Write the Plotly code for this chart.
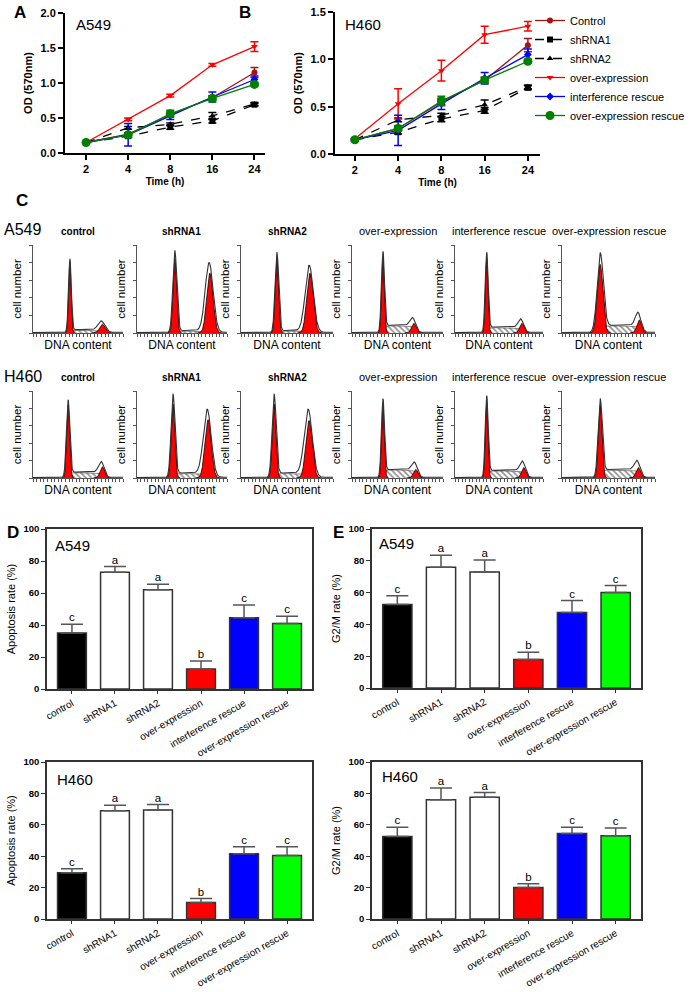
import numpy as np
import plotly.graph_objects as go

W, H = 698, 992
FONT = "Arial, Liberation Sans, sans-serif"

# ---------------- Panel A / B : growth curves ----------------
time_labels = ["2", "4", "8", "16", "24"]
series_names = ["Control", "shRNA1", "shRNA2", "over-expression",
                "interference rescue", "over-expression rescue"]

a549_control = [0.15, 0.27, 0.55, 0.79, 1.15]
a549_control_err = [0.01, 0.02, 0.03, 0.03, 0.07]
a549_sh1 = [0.15, 0.24, 0.37, 0.46, 0.69]
a549_sh1_err = [0.01, 0.02, 0.03, 0.03, 0.02]
a549_sh2 = [0.15, 0.36, 0.41, 0.53, 0.70]
a549_sh2_err = [0.01, 0.02, 0.02, 0.05, 0.02]
a549_oe = [0.15, 0.48, 0.82, 1.26, 1.52]
a549_oe_err = [0.01, 0.02, 0.02, 0.02, 0.07]
a549_ir = [0.15, 0.26, 0.53, 0.80, 1.05]
a549_ir_err = [0.01, 0.16, 0.05, 0.07, 0.05]
a549_oer = [0.15, 0.26, 0.56, 0.78, 0.98]
a549_oer_err = [0.01, 0.03, 0.05, 0.03, 0.02]

h460_control = [0.15, 0.27, 0.55, 0.78, 1.15]
h460_control_err = [0.01, 0.02, 0.03, 0.03, 0.07]
h460_sh1 = [0.15, 0.23, 0.37, 0.46, 0.70]
h460_sh1_err = [0.01, 0.02, 0.03, 0.03, 0.02]
h460_sh2 = [0.15, 0.36, 0.41, 0.52, 0.71]
h460_sh2_err = [0.01, 0.02, 0.02, 0.05, 0.02]
h460_oe = [0.16, 0.53, 0.88, 1.26, 1.35]
h460_oe_err = [0.01, 0.16, 0.11, 0.09, 0.05]
h460_ir = [0.15, 0.25, 0.53, 0.80, 1.05]
h460_ir_err = [0.01, 0.16, 0.06, 0.06, 0.06]
h460_oer = [0.15, 0.27, 0.56, 0.78, 0.98]
h460_oer_err = [0.01, 0.03, 0.05, 0.03, 0.02]

series_colors = ["#a31515", "black", "black", "#ff0000", "#0000ff", "#008000"]
series_symbols = ["circle", "square", "triangle-up", "triangle-down", "diamond", "circle"]
series_dash = ["solid", "dash", "dash", "solid", "solid", "solid"]
series_msize = [6, 6, 6, 6, 6, 9]

# ---------------- Panel C : cell-cycle histograms ----------------
flow_titles = ["control", "shRNA1", "shRNA2", "over-expression",
               "interference rescue", "over-expression rescue"]
a549_g1_pos = [0.41, 0.42, 0.39, 0.34, 0.36, 0.41]
a549_g1_h = [0.80, 0.85, 0.86, 0.86, 0.86, 0.78]
a549_g1_outline = [0.82, 0.92, 0.90, 0.88, 0.88, 0.86]
a549_g1_sd = [0.014, 0.02, 0.018, 0.015, 0.015, 0.03]
a549_g2_pos = [0.77, 0.81, 0.75, 0.68, 0.76, 0.83]
a549_g2_h = [0.10, 0.68, 0.68, 0.11, 0.11, 0.15]
a549_g2_outline = [0.11, 0.78, 0.75, 0.11, 0.11, 0.17]
a549_g2_sd = [0.03, 0.035, 0.035, 0.025, 0.025, 0.025]
a549_s_h = [0.03, 0.02, 0.02, 0.08, 0.06, 0.08]

h460_g1_pos = [0.39, 0.40, 0.36, 0.34, 0.36, 0.41]
h460_g1_h = [0.84, 0.85, 0.85, 0.84, 0.88, 0.84]
h460_g1_outline = [0.86, 0.93, 0.93, 0.86, 0.90, 0.86]
h460_g1_sd = [0.017, 0.02, 0.02, 0.015, 0.015, 0.02]
h460_g2_pos = [0.77, 0.79, 0.74, 0.70, 0.78, 0.82]
h460_g2_h = [0.13, 0.67, 0.66, 0.10, 0.12, 0.12]
h460_g2_outline = [0.14, 0.75, 0.75, 0.11, 0.13, 0.13]
h460_g2_sd = [0.025, 0.035, 0.035, 0.025, 0.025, 0.025]
h460_s_h = [0.06, 0.05, 0.05, 0.09, 0.08, 0.09]

# ---------------- Panel D / E : bar charts ----------------
bar_categories = ["control", "shRNA1", "shRNA2", "over-expression",
                  "interference rescue", "over-expression rescue"]
bar_colors = ["black", "white", "white", "#ff0000", "#0000ff", "#00ff00"]
sig_letters = ["c", "a", "a", "b", "c", "c"]

a549_apoptosis = [35, 73, 62, 12.5, 44.5, 41]
a549_apoptosis_err = [5.5, 3.5, 3.5, 5, 8, 4.5]
a549_g2m = [52.5, 76, 73, 18, 47.5, 60]
a549_g2m_err = [5.5, 7.5, 7.5, 4.5, 7.5, 4.5]
h460_apoptosis = [29.5, 69, 69.5, 10.5, 41.5, 40.5]
h460_apoptosis_err = [2.5, 3.5, 3.5, 2.5, 4.5, 5.5]
h460_g2m = [52.5, 76, 77.5, 20, 54.5, 53]
h460_g2m_err = [6, 7.5, 3, 2.5, 4, 5]

# =========================================================
layout = {}
traces = []
annotations = []


def add_axes(n, xpx, ypx, xopts, yopts):
    xs = "" if n == 1 else str(n)
    layout["xaxis" + xs] = dict(domain=[xpx[0] / W, xpx[1] / W], anchor="y" + xs,
                                automargin=False, **xopts)
    layout["yaxis" + xs] = dict(domain=[1 - ypx[1] / H, 1 - ypx[0] / H], anchor="x" + xs,
                                automargin=False, **yopts)
    return "x" + xs, "y" + xs


def ann(text, x, y, size, xanchor="center", yanchor="middle", color="black"):
    annotations.append(dict(text=text, x=x / W, y=1 - y / H, xref="paper", yref="paper",
                            showarrow=False, xanchor=xanchor, yanchor=yanchor,
                            font=dict(size=size, family=FONT, color=color)))


# ----- A & B -----
line_axis_y = dict(showline=True, linecolor="black", linewidth=2, ticks="outside",
                   ticklen=5, tickwidth=2, tickcolor="black", showgrid=False, zeroline=False,
                   tickfont=dict(size=11, family=FONT, color="black"),
                   title=dict(text="<b>OD (570nm)</b>", font=dict(size=11, family=FONT), standoff=6))
line_axis_x = dict(showline=True, linecolor="black", linewidth=2, ticks="outside",
                   ticklen=5, tickwidth=2, tickcolor="black", showgrid=False, zeroline=False,
                   type="category", tickvals=time_labels,
                   ticktext=["<b>%s</b>" % t for t in time_labels],
                   tickfont=dict(size=11, family=FONT, color="black"),
                   title=dict(text="<b>Time (h)</b>", font=dict(size=10, family=FONT), standoff=4))

xa, ya = add_axes(1, (65, 265), (13, 153),
                  dict(line_axis_x, range=[-0.5, 4.25]),
                  dict(line_axis_y, range=[0, 2.0], tickvals=[0, 0.5, 1.0, 1.5, 2.0],
                       ticktext=["<b>%.1f</b>" % v for v in [0, 0.5, 1.0, 1.5, 2.0]]))
xb, yb = add_axes(2, (335, 540), (12, 154),
                  dict(line_axis_x, range=[-0.46, 4.28]),
                  dict(line_axis_y, range=[0, 1.5], tickvals=[0, 0.5, 1.0, 1.5],
                       ticktext=["<b>%.1f</b>" % v for v in [0, 0.5, 1.0, 1.5]]))

a549_vals = [a549_control, a549_sh1, a549_sh2, a549_oe, a549_ir, a549_oer]
a549_errs = [a549_control_err, a549_sh1_err, a549_sh2_err, a549_oe_err, a549_ir_err, a549_oer_err]
h460_vals = [h460_control, h460_sh1, h460_sh2, h460_oe, h460_ir, h460_oer]
h460_errs = [h460_control_err, h460_sh1_err, h460_sh2_err, h460_oe_err, h460_ir_err, h460_oer_err]

for vals, errs, xr, yr, show in [(a549_vals, a549_errs, xa, ya, True),
                                  (h460_vals, h460_errs, xb, yb, False)]:
    for i in range(6):
        c = series_colors[i]
        traces.append(go.Scatter(
            x=time_labels, y=vals[i], mode="lines+markers", name=series_names[i],
            showlegend=show,
            line=dict(color=c, width=1.3, dash=series_dash[i]),
            marker=dict(symbol=series_symbols[i], size=series_msize[i], color=c),
            error_y=dict(type="data", array=errs[i], color=c, thickness=1.5, width=4),
            xaxis=xr, yaxis=yr))

ann("<b>A</b>", 20, 13, 17)
ann("<b>B</b>", 245, 13, 17)
ann("A549", 74, 25, 15, xanchor="left")
ann("H460", 343, 25, 15, xanchor="left")

# ----- C -----
ann("<b>C</b>", 22, 200, 17)
ann("A549", 2, 230, 16, xanchor="left")
ann("H460", 2, 376, 16, xanchor="left")

col_px = [(33, 123), (137, 227), (241, 333), (352, 443), (455, 543), (562, 655)]
row_px = [(245, 333), (391, 478)]
row_title_y = [231, 377]
xg = np.linspace(0, 1, 601)


def gauss(x, mu, sd):
    return np.exp(-0.5 * ((x - mu) / sd) ** 2)


def sig(x):
    return 1.0 / (1.0 + np.exp(-x))


rows = [
    (a549_g1_pos, a549_g1_h, a549_g1_outline, a549_g1_sd, a549_g2_pos, a549_g2_h,
     a549_g2_outline, a549_g2_sd, a549_s_h),
    (h460_g1_pos, h460_g1_h, h460_g1_outline, h460_g1_sd, h460_g2_pos, h460_g2_h,
     h460_g2_outline, h460_g2_sd, h460_s_h),
]

n = 3
for r, rowdata in enumerate(rows):
    p1s, h1s, o1s, s1s, p2s, h2s, o2s, s2s, shs = rowdata
    for c in range(6):
        xh = dict(range=[0, 1], showline=True, linecolor="#555", linewidth=1, ticks="outside",
                  ticklen=3, tickcolor="#555", dtick=0.04, tick0=0, showticklabels=False,
                  showgrid=False, zeroline=False,
                  title=dict(text="DNA content", font=dict(size=12, family=FONT), standoff=4))
        yh = dict(range=[0, 1], showline=True, linecolor="#555", linewidth=1, ticks="outside",
                  ticklen=3, tickcolor="#555", dtick=0.2, tick0=0, showticklabels=False,
                  showgrid=False, zeroline=False,
                  title=dict(text="cell number", font=dict(size=11.5, family=FONT), standoff=4))
        xr, yr = add_axes(n, col_px[c], row_px[r], xh, yh)
        p1, h1, o1, s1 = p1s[c], h1s[c], o1s[c], s1s[c]
        p2, h2, o2, s2 = p2s[c], h2s[c], o2s[c], s2s[c]
        sh = shs[c]
        s_phase = sh * sig((xg - p1) / 0.012) * sig((p2 - xg) / 0.012)
        # hatched S phase
        traces.append(go.Scatter(x=xg, y=s_phase, mode="lines", fill="tozeroy",
                                 line=dict(color="#444", width=0.6),
                                 fillpattern=dict(shape="\\", fgcolor="#222", bgcolor="white",
                                                  size=4, solidity=0.4),
                                 showlegend=False, hoverinfo="skip", xaxis=xr, yaxis=yr))
        # red peaks
        for mu, hh, sd in [(p1, h1, s1), (p2, h2, s2)]:
            m = np.abs(xg - mu) < 4 * sd
            traces.append(go.Scatter(x=xg[m], y=hh * gauss(xg[m], mu, sd), mode="lines",
                                     fill="tozeroy", fillcolor="#ff0000",
                                     line=dict(color="black", width=0.8),
                                     showlegend=False, hoverinfo="skip", xaxis=xr, yaxis=yr))
        # envelope
        env = o1 * gauss(xg, p1, s1 * 1.1) + o2 * gauss(xg, p2 - 0.008, s2 * 1.25) + s_phase
        env = np.where(xg > 0.05, env + 0.008, 0.004)
        traces.append(go.Scatter(x=xg, y=env, mode="lines",
                                 line=dict(color="#333", width=1.1),
                                 showlegend=False, hoverinfo="skip", xaxis=xr, yaxis=yr))
        cx = (col_px[c][0] + col_px[c][1]) / 2
        if c < 3:
            ann("<b>%s</b>" % flow_titles[c], cx, row_title_y[r], 10)
        else:
            ann(flow_titles[c], cx, row_title_y[r], 11)
        n += 1

# ----- D & E -----
ann("<b>D</b>", 13, 532, 17)
ann("<b>E</b>", 338, 532, 17)

bar_specs = [
    (15, (47, 312), (529, 689), a549_apoptosis, a549_apoptosis_err, "Apoptosis rate (%)", "A549", (53, 545)),
    (16, (372, 641), (529, 688), a549_g2m, a549_g2m_err, "G2/M rate (%)", "A549", (377, 543)),
    (17, (47, 312), (762, 919), h460_apoptosis, h460_apoptosis_err, "Apoptosis rate (%)", "H460", (55, 779)),
    (18, (372, 641), (762, 919), h460_g2m, h460_g2m_err, "G2/M rate (%)", "H460", (380, 776)),
]

for nn, xpx, ypx, vals, errs, ytitle, label, lpos in bar_specs:
    xo = dict(type="category", range=[-0.58, 5.58], showline=True, mirror=True,
              linecolor="#333", linewidth=1.5, ticks="outside", ticklen=3, tickcolor="#333",
              tickangle=-30, tickfont=dict(size=10, family=FONT, color="black"),
              showgrid=False, zeroline=False)
    yo = dict(range=[0, 100], showline=True, mirror=True, linecolor="#333", linewidth=1.5,
              ticks="outside", ticklen=4, tickcolor="#333", tickvals=[0, 20, 40, 60, 80, 100],
              ticktext=["<b>%d</b>" % v for v in [0, 20, 40, 60, 80, 100]],
              tickfont=dict(size=9.5, family=FONT, color="black"), showgrid=False, zeroline=False,
              title=dict(text=ytitle, font=dict(size=11, family=FONT), standoff=6))
    xr, yr = add_axes(nn, xpx, ypx, xo, yo)
    traces.append(go.Bar(x=bar_categories, y=vals, width=0.67,
                         marker=dict(color=bar_colors, line=dict(color="#333", width=1.5)),
                         error_y=dict(type="data", array=errs, arrayminus=[0] * 6, symmetric=False,
                                      color="#555", thickness=1.5, width=11),
                         showlegend=False, xaxis=xr, yaxis=yr))
    traces.append(go.Scatter(x=bar_categories, y=[v + e for v, e in zip(vals, errs)],
                             mode="text", text=sig_letters, textposition="top center",
                             textfont=dict(size=11.5, family=FONT, color="black"),
                             showlegend=False, xaxis=xr, yaxis=yr))
    ann(label, lpos[0], lpos[1], 15, xanchor="left")

fig = go.Figure(data=traces)
fig.update_layout(**layout)
fig.update_layout(
    width=W, height=H, margin=dict(l=0, r=0, t=0, b=0, autoexpand=False),
    paper_bgcolor="white", plot_bgcolor="white",
    font=dict(family=FONT, color="black"),
    annotations=annotations,
    legend=dict(x=530 / W, y=1 - 6 / H, xanchor="left", yanchor="top",
                font=dict(size=11, family=FONT, color="black"),
                bgcolor="rgba(0,0,0,0)", tracegroupgap=0),
    bargap=0.3,
)
fig.write_html("out.html", config={"displayModeBar": False},
               post_script="document.body.style.margin='0';document.body.style.overflow='hidden';")
